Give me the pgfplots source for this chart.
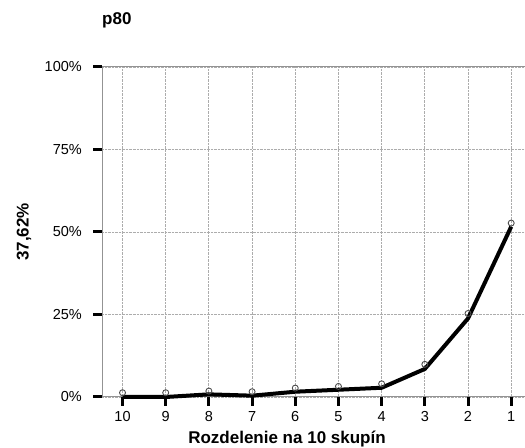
\documentclass[border=0pt]{standalone}
\usepackage{pgfplots}
\pgfplotsset{compat=1.18}
\usepackage{fontspec}
\setmainfont{Liberation Sans}
\begin{document}
\begin{tikzpicture}[x=1bp,y=1bp]
\useasboundingbox (0,0) rectangle (525,448);
\begin{axis}[
  at={(102bp,51bp)}, anchor=south west,
  width=423bp, height=330bp, scale only axis,
  xmin=-0.475, xmax=9.32, ymin=0, ymax=100,
  xtick={0,1,2,3,4,5,6,7,8,9},
  xticklabels={10,9,8,7,6,5,4,3,2,1},
  ytick={0,25,50,75,100},
  yticklabels={0\%,25\%,50\%,75\%,100\%},
  axis x line*=bottom, axis y line*=left,
  axis line style={-, draw=gray!85, line width=1pt},
  tick align=outside,
  major tick length=9bp,
  tick style={black, line width=3bp},
  grid=major,
  major grid style={densely dotted, draw=gray!65, line width=0.8pt},
  ticklabel style={font=\fontsize{14.5bp}{17bp}\selectfont, inner sep=0pt},
  yticklabel style={xshift=-11bp},
  xticklabel style={yshift=-5.5bp},
  clip=false,
]
\draw[gray!85, line width=1pt] (axis cs:-0.475,100) -- (axis cs:9.32,100);
\addplot[black, line width=4bp, line join=round] coordinates {
(0,0) (1,0) (2,0.8) (3,0.4) (4,1.6) (5,2.2) (6,2.8) (7,8.5) (8,23.8) (9,51.6)
};
\addplot[only marks, mark=o, mark size=3bp, gray!60!black, line width=0.9pt] coordinates {
(0,1.3) (1,1.3) (2,1.8) (3,1.6) (4,2.7) (5,3.2) (6,4.0) (7,9.9) (8,25.3) (9,52.7)
};
\end{axis}
\node[anchor=base west, font=\bfseries\fontsize{17bp}{20bp}\selectfont, inner sep=0pt] at (102,423) {p80};
\node[rotate=90, font=\bfseries\fontsize{17bp}{20bp}\selectfont, inner sep=0pt] at (24,216) {37,62\%};
\node[anchor=base, font=\bfseries\fontsize{17bp}{20bp}\selectfont, inner sep=0pt] at (287,4) {Rozdelenie na 10 skupín};
\end{tikzpicture}
\end{document}
